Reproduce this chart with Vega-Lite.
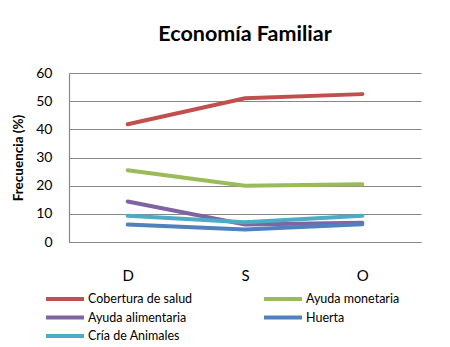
{
  "$schema": "https://vega.github.io/schema/vega-lite/v6.json",
  "autosize": {"type": "none"},
  "width": 352,
  "height": 169,
  "padding": {"left": 69, "top": 73, "right": 29, "bottom": 105},
  "background": "white",
  "config": {"font": "Lato", "view": {"stroke": null}},
  "title": {"text": "Economía Familiar", "fontSize": 21.5, "fontWeight": "bold", "color": "#000000", "anchor": "middle", "offset": 21},
  "data": {"values": [
    {"serie": "Cobertura de salud", "mes": "D", "valor": 41.8},
    {"serie": "Cobertura de salud", "mes": "S", "valor": 51.0},
    {"serie": "Cobertura de salud", "mes": "O", "valor": 52.5},
    {"serie": "Ayuda monetaria", "mes": "D", "valor": 25.5},
    {"serie": "Ayuda monetaria", "mes": "S", "valor": 20.0},
    {"serie": "Ayuda monetaria", "mes": "O", "valor": 20.5},
    {"serie": "Ayuda alimentaria", "mes": "D", "valor": 14.4},
    {"serie": "Ayuda alimentaria", "mes": "S", "valor": 6.2},
    {"serie": "Ayuda alimentaria", "mes": "O", "valor": 6.8},
    {"serie": "Huerta", "mes": "D", "valor": 6.2},
    {"serie": "Huerta", "mes": "S", "valor": 4.4},
    {"serie": "Huerta", "mes": "O", "valor": 6.3},
    {"serie": "Cría de Animales", "mes": "D", "valor": 9.3},
    {"serie": "Cría de Animales", "mes": "S", "valor": 7.0},
    {"serie": "Cría de Animales", "mes": "O", "valor": 9.3}
  ]},
  "mark": {"type": "line", "strokeWidth": 4, "strokeCap": "round"},
  "encoding": {
    "x": {"field": "mes", "type": "ordinal", "sort": ["D", "S", "O"],
      "scale": {"type": "point", "padding": 0.5},
      "axis": {"title": null, "labelAngle": 0, "labelFontSize": 15, "labelColor": "#000000", "labelPadding": 26, "ticks": false, "grid": false, "domainColor": "#888888", "domainWidth": 1.2}},
    "y": {"field": "valor", "type": "quantitative",
      "scale": {"domain": [0, 60], "nice": false},
      "axis": {"title": "Frecuencia (%)", "titleFontSize": 13.5, "titleFontWeight": "bold", "titleColor": "#000000", "titlePadding": 10,
        "values": [0, 10, 20, 30, 40, 50, 60], "labelFontSize": 14, "labelColor": "#000000", "labelPadding": 17, "ticks": false,
        "grid": true, "gridColor": "#888888", "gridWidth": 1, "domainColor": "#888888", "domainWidth": 1.2}},
    "color": {"field": "serie", "type": "nominal",
      "scale": {"domain": ["Cobertura de salud", "Ayuda monetaria", "Ayuda alimentaria", "Huerta", "Cría de Animales"],
        "range": ["#C0504D", "#9BBB59", "#8064A2", "#4F81BD", "#4BACC6"]},
      "legend": {"title": null, "orient": "none", "legendX": -11, "legendY": 219, "direction": "horizontal", "columns": 2, "symbolType": "M-4,0H4", "symbolSize": 90, "symbolStrokeWidth": 4,
        "labelFontSize": 12.5, "labelColor": "#000000", "rowPadding": 2.5, "columnPadding": 63, "labelOffset": 16}}
  }
}
